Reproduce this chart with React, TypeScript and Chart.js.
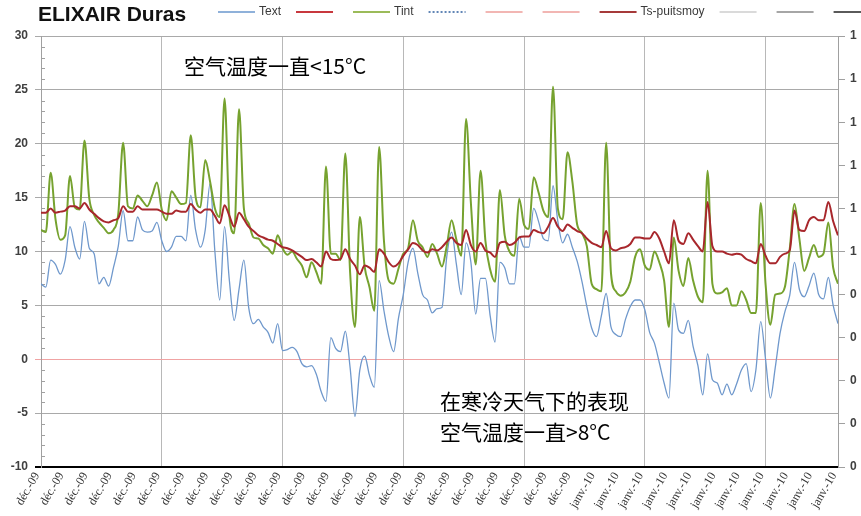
import React, { useEffect, useRef } from 'react';
import { Chart, registerables } from 'chart.js';

Chart.register(...registerables);

const chartTitle = 'ELIXAIR Duras';

const xLabels = [
  'déc.-09', 'déc.-09', 'déc.-09', 'déc.-09', 'déc.-09', 'déc.-09', 'déc.-09', 'déc.-09',
  'déc.-09', 'déc.-09', 'déc.-09', 'déc.-09', 'déc.-09', 'déc.-09', 'déc.-09', 'déc.-09',
  'déc.-09', 'déc.-09', 'déc.-09', 'déc.-09', 'déc.-09', 'déc.-09', 'déc.-09',
  'janv.-10', 'janv.-10', 'janv.-10', 'janv.-10', 'janv.-10', 'janv.-10', 'janv.-10',
  'janv.-10', 'janv.-10', 'janv.-10', 'janv.-10',
];
const pointsPerLabel = 5;

const textValues = [
  7.0, 6.7, 9.2, 8.8, 7.9, 9.2, 12.3, 10.4, 9.3, 12.8,
  10.3, 9.8, 7.0, 7.6, 6.8, 8.5, 10.5, 13.8, 11.0, 11.0,
  13.2, 12.0, 11.8, 11.9, 12.7, 11.0, 10.0, 10.4, 11.4, 11.4,
  11.0, 15.2, 12.0, 10.4, 12.0, 16.3, 10.0, 5.5, 12.3, 7.3,
  3.6, 6.5, 9.2, 4.8, 3.3, 3.7, 3.0, 2.5, 1.5, 3.3,
  0.8, 0.9, 1.1, 0.7, -0.4, -0.7, -0.6, -1.4, -3.0, -3.9,
  2.0, 1.0, 0.7, 2.6, -0.8, -5.3, -1.0, 0.3, -1.5, -2.6,
  7.3, 4.5, 2.1, 0.7, 3.8, 6.0, 9.0, 10.3, 8.0, 6.0,
  5.5, 4.3, 4.7, 4.8, 9.5, 11.8, 8.8, 6.0, 10.8, 9.0,
  4.2, 7.5, 7.5, 4.0, 1.6, 9.0, 8.5, 7.0, 7.0, 11.4,
  10.4, 10.4, 14.0, 12.8, 11.2, 11.0, 16.1, 12.8, 10.8, 11.6,
  10.4, 9.1, 7.2, 4.9, 2.9, 2.1, 4.0, 6.1, 3.0, 2.3,
  2.1, 3.7, 4.9, 5.5, 5.5, 4.6, 2.5, 1.5, -0.3, -2.2,
  -3.6, 5.2, 2.7, 2.4, 3.6, 1.2, -0.6, -3.3, 0.5, -1.9,
  -2.2, -3.3, -2.3, -3.3, -2.3, -1.0, -0.4, -3.0, -1.0, 3.5,
  0.0, -3.6, -0.8, 2.4, 4.4, 5.9, 9.0, 6.5, 5.8, 6.8,
  8.0, 6.0, 5.6, 7.6, 5.0, 3.3,
];

const tintValues = [
  12.0, 11.8, 17.3, 13.0, 11.1, 11.5, 17.0, 14.1, 13.9, 20.3,
  14.9, 13.4, 12.7, 12.2, 11.7, 12.0, 13.5, 20.1, 14.2, 14.0,
  15.2, 14.7, 14.2, 15.2, 16.4, 13.9, 12.9, 15.6, 15.0, 14.4,
  14.5, 20.8, 15.1, 14.1, 18.5, 16.5, 14.0, 13.2, 24.2, 13.3,
  11.7, 23.2, 14.0, 12.6, 11.3, 11.2, 10.6, 10.3, 9.8, 11.5,
  10.3, 9.7, 10.0, 9.3, 8.7, 7.6, 9.0, 8.1, 7.0, 17.9,
  9.8, 9.8, 9.2, 19.1, 8.0, 3.0, 13.2, 8.6, 6.7, 4.5,
  19.7, 11.0, 7.3, 7.0, 8.4, 9.8, 10.3, 12.9, 11.0, 10.4,
  9.5, 10.7, 9.8, 8.6, 10.5, 12.9, 11.1, 9.6, 22.3, 14.5,
  8.8, 17.5, 11.0, 8.3, 7.2, 15.7, 11.5, 10.0, 9.6, 14.9,
  12.5, 12.1, 16.9, 15.5, 13.8, 13.2, 25.3, 14.0, 13.0, 19.2,
  16.5, 12.5, 11.7, 10.5, 7.0, 6.5, 6.3, 20.1, 8.0, 6.3,
  5.9, 6.2, 7.2, 9.5, 10.2, 8.7, 8.3, 10.0, 9.0, 7.3,
  3.0, 11.3, 8.2, 6.8, 9.4, 7.3, 5.8, 5.3, 17.5, 7.0,
  6.1, 6.2, 6.6, 5.0, 5.0, 6.3, 5.5, 4.3, 4.3, 14.5,
  7.0, 3.2, 6.0, 6.1, 6.7, 10.2, 14.4, 11.2, 8.2, 9.4,
  10.6, 9.5, 9.8, 12.7, 8.5, 7.0,
];

const tsPuitsmoyValues = [
  13.6, 13.6, 14.0, 13.6, 13.7, 13.8, 14.2, 14.2, 14.0, 14.5,
  13.9, 13.5, 13.1, 12.8, 12.7, 12.9, 13.1, 14.2, 13.7, 13.7,
  14.2, 13.9, 13.9, 13.9, 13.9, 13.7, 13.5, 13.5, 13.8, 13.7,
  13.7, 14.4, 13.9, 13.6, 13.9, 13.9, 13.3, 12.6, 14.3, 13.3,
  12.3, 13.6, 13.0, 12.3, 11.9, 11.5, 11.3, 11.1, 11.0, 10.7,
  10.4, 10.3, 10.1, 9.8, 9.5, 9.2, 9.3, 9.0, 8.6, 10.0,
  9.3, 9.2, 9.3, 10.2, 9.3, 8.7, 7.9, 8.7, 8.5, 8.1,
  10.2, 9.8, 9.0, 8.6, 8.9, 9.6, 10.2, 10.8, 10.6, 10.1,
  9.9, 10.2, 10.1, 10.4, 10.9, 11.3, 10.8, 10.6, 12.0, 10.6,
  10.0, 10.8, 10.1, 9.9, 9.5, 10.8, 10.9, 10.6, 10.8, 11.3,
  11.4, 11.4, 12.0, 11.8, 11.7, 12.3, 13.1, 12.3, 11.9, 12.5,
  12.2, 11.9, 11.7, 11.2, 10.8, 10.6, 10.4, 11.9, 10.3, 10.1,
  10.3, 10.4, 10.7, 11.3, 11.3, 11.2, 11.2, 11.8, 11.2, 10.0,
  8.9, 12.9, 11.0, 10.7, 11.7, 11.1, 10.5, 10.0, 14.6, 10.5,
  10.0, 10.0, 9.8, 9.7, 9.8, 9.7, 9.3, 9.1, 8.9, 10.7,
  9.6, 8.9, 8.9, 9.5, 9.8, 10.1, 13.8, 12.0, 11.9, 12.9,
  13.2, 12.9, 12.9, 14.6, 12.8, 11.5,
];

const rightTickLabels = ['0', '0', '0', '0', '0', '1', '1', '1', '1', '1', '1'];

const legendLabels = ['Text', '', 'Tint', '', '', '', 'Ts-puitsmoy', '', '', ''];
const legendColors = ['#8fb1da', '#c8383e', '#9bbb59', '#2f5f9e', '#f2b6b3', '#f2b6b3', '#a63a3a', '#dadada', '#a6a6a6', '#5a5a5a'];
const legendDashed = [false, false, false, true, false, false, false, false, false, false];

const notes = ['空气温度一直<15°C', '在寒冷天气下的表现', '空气温度一直>8°C'];

const toPoints = (arr: number[]) => arr.map((v, i) => ({ x: i, y: v }));

const decorPlugin = {
  id: 'decor',
  beforeDatasetsDraw(chart: any) {
    const ctx = chart.ctx;
    const ys = chart.scales.y;
    const left = chart.chartArea.left;
    ctx.save();
    ctx.strokeStyle = '#a0a0a0';
    ctx.lineWidth = 1;
    for (let v = ys.min; v <= ys.max; v++) {
      if (v % 5 === 0) continue;
      const py = Math.round(ys.getPixelForValue(v)) + 0.5;
      ctx.beginPath();
      ctx.moveTo(left, py);
      ctx.lineTo(left + 4, py);
      ctx.stroke();
    }
    ctx.restore();
  },
  afterDraw(chart: any) {
    const ctx = chart.ctx;
    ctx.save();
    // title
    ctx.fillStyle = '#111';
    ctx.font = 'bold 21px "Liberation Sans", Arial, sans-serif';
    ctx.textBaseline = 'middle';
    ctx.textAlign = 'left';
    ctx.fillText(chartTitle, 38, 15);
    // legend
    let x = 218;
    const ly = 12;
    ctx.font = '12px "Liberation Sans", Arial, sans-serif';
    for (let i = 0; i < legendLabels.length; i++) {
      ctx.beginPath();
      ctx.strokeStyle = legendColors[i];
      ctx.lineWidth = legendDashed[i] ? 1.5 : 2;
      ctx.setLineDash(legendDashed[i] ? [2, 2] : []);
      ctx.moveTo(x, ly);
      ctx.lineTo(x + 37, ly);
      ctx.stroke();
      x += 37;
      if (legendLabels[i]) {
        ctx.fillStyle = '#3a3a3a';
        ctx.fillText(legendLabels[i], x + 4, ly);
        x += 4 + ctx.measureText(legendLabels[i]).width + 15;
      } else {
        x += 20;
      }
    }
    ctx.setLineDash([]);
    // notes
    ctx.fillStyle = '#000';
    ctx.font = '21px "Noto Sans CJK SC", sans-serif';
    ctx.fillText(notes[0], 184, 66);
    ctx.fillText(notes[1], 440, 401);
    ctx.fillText(notes[2], 440, 432);
    ctx.restore();
  },
};

export default function App() {
  const canvasRef = useRef<HTMLCanvasElement | null>(null);

  useEffect(() => {
    const canvas = canvasRef.current;
    if (!canvas) return;
    const xMax = (xLabels.length - 1) * pointsPerLabel;
    const chart = new Chart(canvas, {
      type: 'line',
      data: {
        datasets: [
          {
            label: 'Ts-puitsmoy',
            data: toPoints(tsPuitsmoyValues),
            borderColor: '#a8272c',
            borderWidth: 2,
            pointRadius: 0,
            cubicInterpolationMode: 'monotone',
            yAxisID: 'y',
          },
          {
            label: 'Tint',
            data: toPoints(tintValues),
            borderColor: '#76a22f',
            borderWidth: 2,
            pointRadius: 0,
            cubicInterpolationMode: 'monotone',
            yAxisID: 'y',
          },
          {
            label: 'Text',
            data: toPoints(textValues),
            borderColor: '#6f98cc',
            borderWidth: 1.3,
            pointRadius: 0,
            cubicInterpolationMode: 'monotone',
            yAxisID: 'y',
          },
        ],
      },
      options: {
        animation: false,
        responsive: true,
        maintainAspectRatio: false,
        devicePixelRatio: 1,
        events: [],
        layout: { padding: { top: 36, left: 0, right: 0, bottom: 0 } },
        plugins: {
          legend: { display: false },
          title: { display: false },
          tooltip: { enabled: false },
        },
        scales: {
          x: {
            type: 'linear',
            min: 0,
            max: xMax,
            afterFit: (s: any) => {
              s.height = 49;
            },
            ticks: {
              stepSize: pointsPerLabel,
              autoSkip: false,
              minRotation: 60,
              maxRotation: 60,
              padding: 3,
              labelOffset: -4,
              color: '#333',
              font: { family: '"Liberation Serif", serif', size: 12 },
              callback: (v: any) => xLabels[Math.round(Number(v) / pointsPerLabel)] ?? '',
            },
            grid: {
              drawTicks: false,
              color: (c: any) => {
                const v = c.tick ? c.tick.value : -1;
                return v > 0 && v < xMax && v % (pointsPerLabel * 5) === 0 ? '#b8b8b8' : 'rgba(0,0,0,0)';
              },
            },
            border: { color: '#000', width: 2 },
          },
          y: {
            position: 'left',
            min: -10,
            max: 30,
            afterFit: (s: any) => {
              s.width = 41;
            },
            ticks: {
              stepSize: 5,
              padding: 7,
              color: '#404040',
              font: { family: '"Liberation Sans", Arial, sans-serif', size: 12, weight: 'bold' },
            },
            grid: {
              tickLength: 6,
              color: (c: any) => {
                const v = c.tick ? c.tick.value : 1;
                if (v === 0) return '#f0a3a3';
                if (v === -10) return '#000';
                return '#a9a9a9';
              },
              lineWidth: (c: any) => (c.tick && c.tick.value === -10 ? 2 : 1),
            },
            border: { color: '#a0a0a0', width: 1 },
          },
          y2: {
            position: 'right',
            min: 0,
            max: rightTickLabels.length - 1,
            afterFit: (s: any) => {
              s.width = 23;
            },
            ticks: {
              stepSize: 1,
              padding: 5,
              color: '#404040',
              font: { family: '"Liberation Sans", Arial, sans-serif', size: 12, weight: 'bold' },
              callback: (v: any) => rightTickLabels[Math.round(Number(v))] ?? '',
            },
            grid: { drawOnChartArea: false, tickLength: 7, color: '#a0a0a0' },
            border: { color: '#a0a0a0', width: 1 },
          },
        },
      },
      plugins: [decorPlugin],
    } as any);
    return () => chart.destroy();
  }, []);

  return (
    <div style={{ position: 'absolute', left: 0, top: 0, width: 861, height: 516, background: '#fff' }}>
      <canvas ref={canvasRef} style={{ display: 'block' }} />
    </div>
  );
}
